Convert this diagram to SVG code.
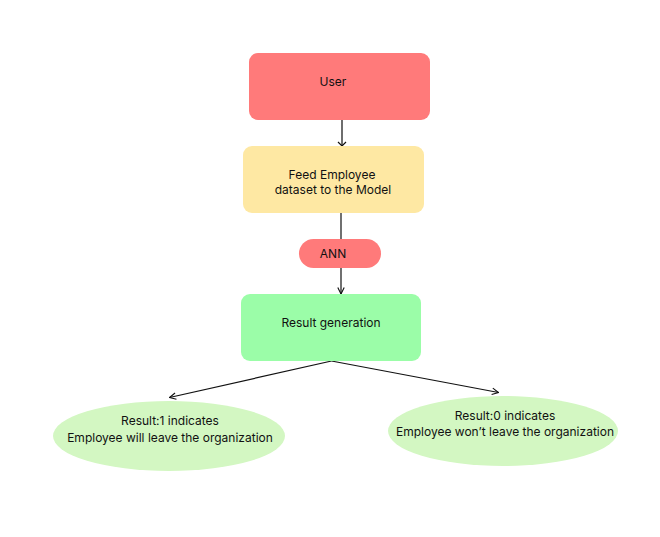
<svg xmlns="http://www.w3.org/2000/svg" width="660" height="537" viewBox="0 0 660 537">
<style>
text{font-family:Inter,"Noto Sans","Liberation Sans",sans-serif;font-size:12px;fill:#111;text-anchor:middle}
.c{fill:none;stroke:#111;stroke-width:1.2}
</style>
<defs>
<marker id="ah" viewBox="0 0 10 10" refX="9" refY="5" markerWidth="8" markerHeight="8" markerUnits="userSpaceOnUse" orient="auto">
<path d="M1,1 L9,5 L1,9" fill="none" stroke="#111" stroke-width="1.4"/>
</marker>
</defs>
<rect width="660" height="537" fill="#fff"/>
<g id="connectors">
<line x1="342" y1="120" x2="342" y2="146" stroke="#6e6e6e" stroke-width="2"/>
<path d="M338,142 L342,146 L346,142" fill="none" stroke="#111" stroke-width="1.2"/>
<line class="c" x1="341" y1="213" x2="341" y2="239"/>
<line class="c" x1="341" y1="268" x2="341" y2="294" marker-end="url(#ah)"/>
<line class="c" x1="331.5" y1="361" x2="169.5" y2="397.5" marker-end="url(#ah)"/>
<line class="c" x1="331.5" y1="361" x2="498.5" y2="392.5" marker-end="url(#ah)"/>
</g>
<g id="user">
<rect x="249" y="53" width="181" height="67" rx="9" fill="#FF7A7A"/>
<text x="333" y="86">User</text>
</g>
<g id="feed">
<rect x="243" y="146" width="181" height="67" rx="9" fill="#FEE8A3"/>
<text x="332" y="179">Feed Employee</text>
<text x="333" y="194">dataset to the Model</text>
</g>
<g id="ann">
<rect x="299" y="239" width="82" height="29" rx="14.5" fill="#FF7A7A"/>
<text x="333" y="258">ANN</text>
</g>
<g id="result">
<rect x="241" y="294" width="180" height="67" rx="9" fill="#9BFDA8"/>
<text x="331" y="327">Result generation</text>
</g>
<g id="leave">
<ellipse cx="169" cy="436" rx="116" ry="35" fill="#D3F7C2"/>
<text x="170" y="425">Result:1 indicates</text>
<text x="170" y="442">Employee will leave the organization</text>
</g>
<g id="stay">
<ellipse cx="503" cy="431" rx="115" ry="35" fill="#D3F7C2"/>
<text x="505" y="420">Result:0 indicates</text>
<text x="505" y="436">Employee won’t leave the organization</text>
</g>
</svg>
